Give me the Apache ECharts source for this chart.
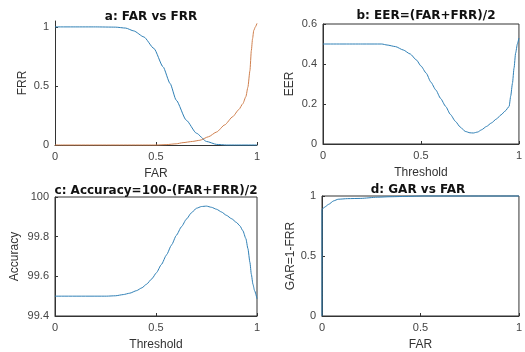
<!DOCTYPE html>
<html>
<head>
<meta charset="utf-8">
<script src="https://cdn.jsdelivr.net/npm/echarts@6/dist/echarts.min.js"></script>
<style>
  html, body { margin: 0; padding: 0; background: #fff; }
  #chart { width: 525px; height: 352px; }
</style>
</head>
<body>
<div id="chart"></div>
<script>
// a: FAR vs FRR
var frrX = [0, 0.1, 0.2, 0.3, 0.35, 0.39, 0.44, 0.49, 0.535, 0.57, 0.6, 0.65, 0.7, 0.75, 0.8, 0.85, 0.9, 1];
var frrY = [1, 1, 1, 0.998, 0.99, 0.966, 0.915, 0.817, 0.662, 0.52, 0.38, 0.21, 0.1, 0.03, 0.005, 0, 0, 0];
var farX = [0, 0.5, 0.55, 0.6, 0.634, 0.68, 0.717, 0.76, 0.8, 0.84, 0.88, 0.91, 0.93, 0.945, 0.955, 0.965, 0.972, 0.978, 0.984, 0.992, 1];
var farY = [0, 0, 0.003, 0.01, 0.02, 0.03, 0.04, 0.07, 0.11, 0.17, 0.24, 0.3, 0.35, 0.41, 0.49, 0.63, 0.8, 0.9, 0.97, 1.0, 1.03];

// b: EER
var eerX = [0, 0.2, 0.3, 0.327, 0.37, 0.41, 0.445, 0.477, 0.5, 0.527, 0.55, 0.576, 0.6, 0.626, 0.65, 0.676, 0.7, 0.726, 0.75, 0.767, 0.79, 0.809, 0.835, 0.859, 0.885, 0.909, 0.93, 0.95, 0.958, 0.967, 0.975, 0.983, 0.992, 1];
var eerY = [0.5, 0.5, 0.5, 0.495, 0.487, 0.47, 0.45, 0.42, 0.39, 0.354, 0.31, 0.27, 0.228, 0.188, 0.148, 0.113, 0.085, 0.063, 0.056, 0.055, 0.06, 0.071, 0.088, 0.105, 0.125, 0.146, 0.165, 0.188, 0.24, 0.304, 0.38, 0.454, 0.5, 0.53];

// c: Accuracy
var accX = [0, 0.255, 0.3, 0.338, 0.37, 0.404, 0.43, 0.453, 0.48, 0.502, 0.527, 0.552, 0.577, 0.601, 0.626, 0.651, 0.675, 0.7, 0.725, 0.75, 0.775, 0.8, 0.825, 0.848, 0.875, 0.898, 0.915, 0.93, 0.945, 0.955, 0.965, 0.972, 0.98, 0.988, 1];
var accY = [99.5, 99.5, 99.502, 99.508, 99.515, 99.528, 99.542, 99.56, 99.588, 99.618, 99.66, 99.708, 99.758, 99.807, 99.85, 99.889, 99.92, 99.943, 99.952, 99.954, 99.948, 99.938, 99.924, 99.908, 99.89, 99.872, 99.855, 99.83, 99.79, 99.74, 99.67, 99.61, 99.56, 99.528, 99.487];

// d: GAR vs FAR
var garX = [0, 0, 0.008, 0.016, 0.033, 0.06, 0.082, 0.13, 0.197, 0.28, 0.35, 0.44, 0.52, 1];
var garY = [0, 0.89, 0.9, 0.91, 0.93, 0.96, 0.973, 0.978, 0.98, 0.99, 0.994, 0.997, 1, 1];

var titles = ['a: FAR vs FRR', 'b: EER=(FAR+FRR)/2', 'c: Accuracy=100-(FAR+FRR)/2', 'd: GAR vs FAR'];

var blue = '#2f80b6';
var orange = '#d0804e';
var axisColor = '#333';
var font = 'Liberation Sans, Arial, sans-serif';

function pairs(xs, ys) {
  return xs.map(function (x, i) { return [x, ys[i]]; });
}

function xAxis(idx, name) {
  return {
    type: 'value', gridIndex: idx, min: 0, max: 1, interval: 0.5,
    name: name, nameLocation: 'middle', nameGap: 23,
    nameTextStyle: { color: '#333', fontSize: 12, fontFamily: font },
    axisLine: { lineStyle: { color: axisColor, width: 1 } },
    axisTick: { inside: true, length: 3, lineStyle: { color: axisColor } },
    axisLabel: { color: '#444', fontSize: 11, fontFamily: font, margin: 6 },
    splitLine: { show: false }
  };
}

function yAxis(idx, name, min, max, interval, gap, custom) {
  var ax = {
    type: 'value', gridIndex: idx, min: min, max: max, interval: interval,
    name: name, nameLocation: 'middle', nameGap: gap, nameRotate: 90,
    nameTextStyle: { color: '#333', fontSize: 12, fontFamily: font },
    axisLine: { show: true, lineStyle: { color: axisColor, width: 1 } },
    axisTick: { show: true, inside: true, length: 3, lineStyle: { color: axisColor } },
    axisLabel: { color: '#444', fontSize: 11, fontFamily: font, margin: 6 },
    splitLine: { show: false }
  };
  if (custom) {
    ax.axisLabel.customValues = custom;
    ax.axisTick.customValues = custom;
  }
  return ax;
}

function line(idx, data, color) {
  return {
    type: 'line', xAxisIndex: idx, yAxisIndex: idx, data: data,
    showSymbol: false, smooth: 0.2, smoothMonotone: 'x',
    lineStyle: { color: color, width: 1 }, clip: false
  };
}

var boxStyle = { show: true, borderColor: axisColor, borderWidth: 1, backgroundColor: 'transparent' };

var option = {
  backgroundColor: '#fff',
  animation: false,
  title: [
    { text: titles[0], left: 146, top: 6 },
    { text: titles[1], left: 421, top: 5 },
    { text: titles[2], left: 151, top: 180 },
    { text: titles[3], left: 413, top: 179 }
  ].map(function (t) {
    t.textAlign = 'center';
    t.textStyle = { fontSize: 12, fontWeight: 'bold', color: '#111', fontFamily: 'DejaVu Sans, sans-serif' };
    return t;
  }),
  grid: [
    { left: 55, top: 21, width: 202, height: 124 },
    Object.assign({ left: 323, top: 24, width: 201, height: 120 }, boxStyle),
    Object.assign({ left: 55, top: 197, width: 202, height: 122 }, boxStyle),
    Object.assign({ left: 322, top: 196, width: 202, height: 122 }, boxStyle)
  ],
  xAxis: [
    xAxis(0, 'FAR'),
    xAxis(1, 'Threshold'),
    xAxis(2, 'Threshold'),
    xAxis(3, 'FAR')
  ],
  yAxis: [
    yAxis(0, 'FRR', 0, 1.05, 0.5, 26, [0, 0.5, 1]),
    yAxis(1, 'EER', 0, 0.6, 0.2, 27),
    yAxis(2, 'Accuracy', 99.4, 100, 0.2, 34),
    yAxis(3, 'GAR=1-FRR', 0, 1, 0.5, 20)
  ],
  series: [
    line(0, pairs(frrX, frrY), blue),
    line(0, pairs(farX, farY), orange),
    line(1, pairs(eerX, eerY), blue),
    line(2, pairs(accX, accY), blue),
    line(3, pairs(garX, garY), blue)
  ]
};

var chart = echarts.init(document.getElementById('chart'), null, { renderer: 'canvas' });
chart.setOption(option);
</script>
</body>
</html>
